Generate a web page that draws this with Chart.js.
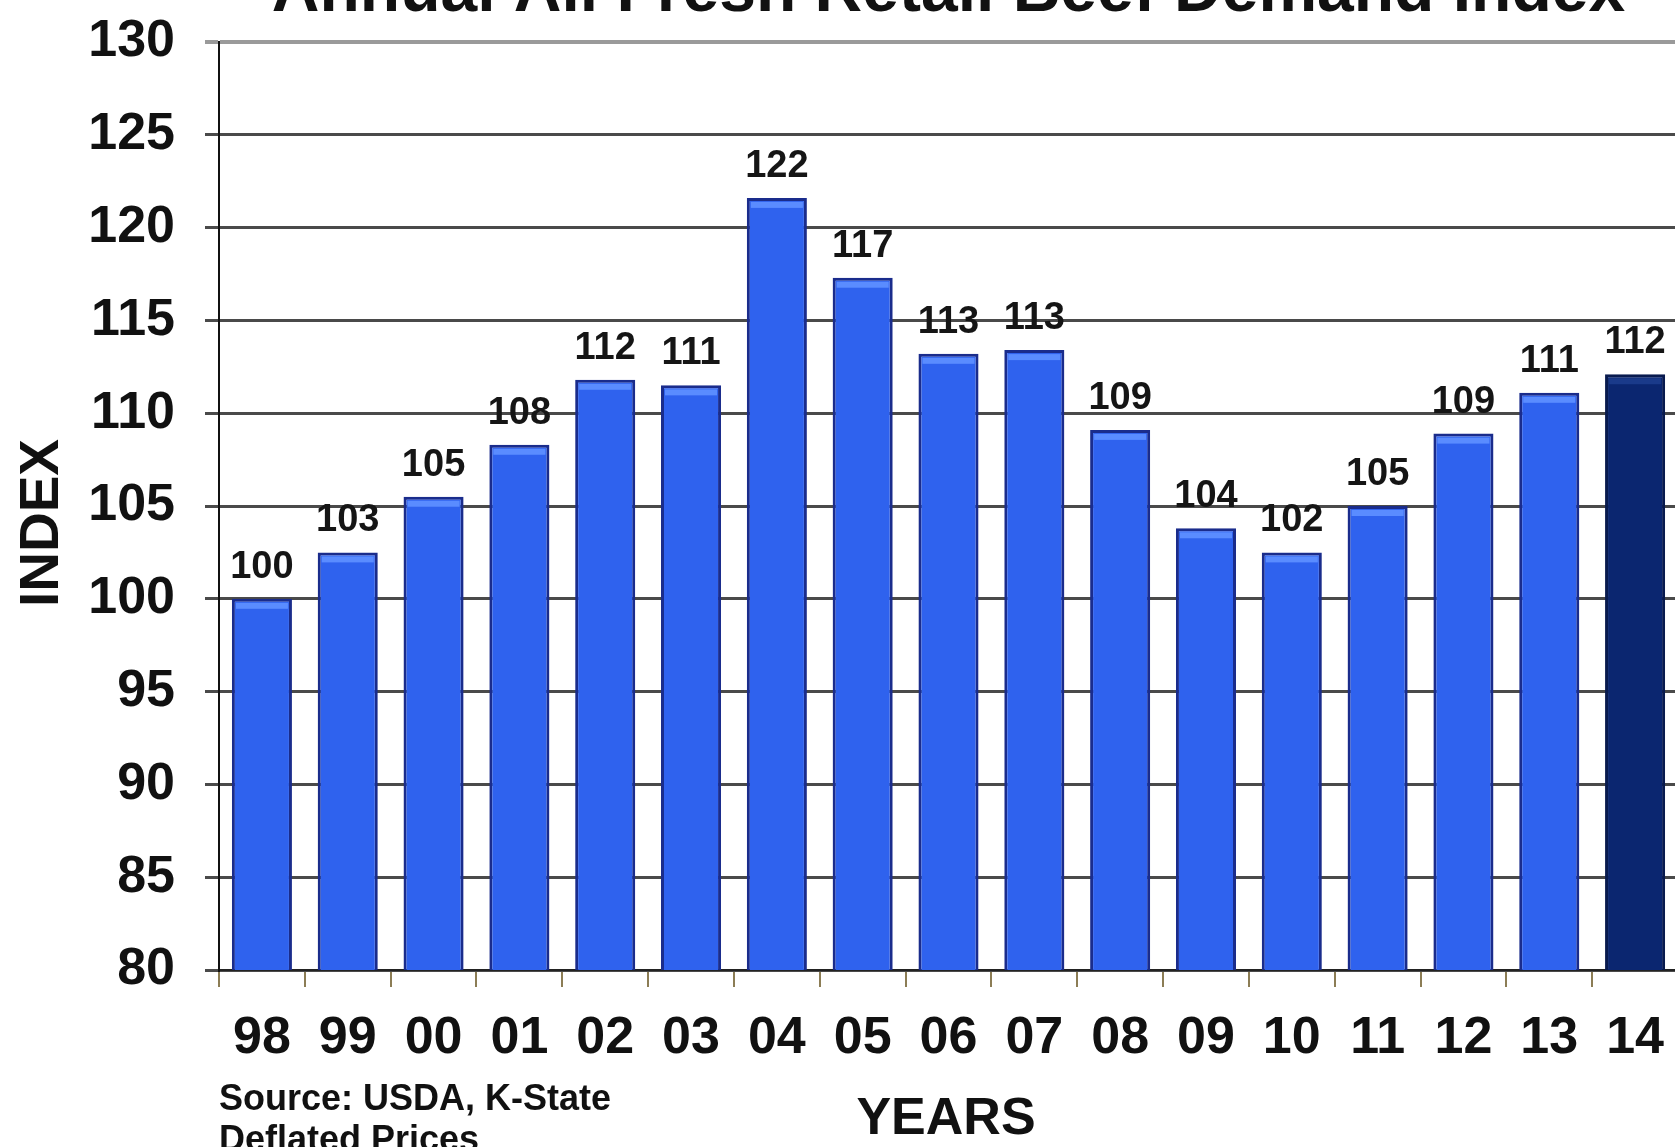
<!DOCTYPE html>
<html>
<head>
<meta charset="utf-8">
<script src="https://cdn.jsdelivr.net/npm/chart.js@4.4.1/dist/chart.umd.min.js"></script>
<style>
  html, body { margin: 0; padding: 0; background: #fff; overflow: hidden; }
  #wrap { position: relative; width: 1678px; height: 1147px; }
</style>
</head>
<body>
<div id="wrap"><canvas id="demandChart"></canvas></div>
<script>
const years = ["98", "99", "00", "01", "02", "03", "04", "05", "06", "07", "08", "09", "10", "11", "12", "13", "14"];
const demandIndex = [100.0, 102.5, 105.5, 108.3, 111.8, 111.5, 121.6, 117.3, 113.2, 113.4, 109.1, 103.8, 102.5, 105.0, 108.9, 111.1, 112.1];
const valueLabels = ["100", "103", "105", "108", "112", "111", "122", "117", "113", "113", "109", "104", "102", "105", "109", "111", "112"];
const yTicks = [80, 85, 90, 95, 100, 105, 110, 115, 120, 125, 130];

const FONT = "'Liberation Sans', Arial, sans-serif";
const barFill = years.map((y, i) => (i === years.length - 1 ? "#0b2670" : "#2f62ee"));
const barEdge = years.map((y, i) => (i === years.length - 1 ? "#081a4e" : "#1a2c8c"));

// value labels, top highlight and the loose texts round the plot
const extras = {
  id: "extras",
  afterDatasetsDraw(chart) {
    const c = chart.ctx;
    const meta = chart.getDatasetMeta(0);
    c.save();
    meta.data.forEach((bar, i) => {
      const w = bar.width;
      c.fillStyle = i === years.length - 1 ? "#1a3a8a" : "#5a8cff";
      c.fillRect(bar.x - w / 2 + 4, bar.y + 4, w - 8, 6);
      c.fillStyle = "#151515";
      c.font = "bold 38px " + FONT;
      c.textAlign = "center";
      c.textBaseline = "alphabetic";
      c.fillText(valueLabels[i], bar.x, bar.y - 21);
    });
    c.restore();
  },
  afterDraw(chart) {
    const c = chart.ctx;
    const a = chart.chartArea;
    c.save();
    c.fillStyle = "#111";
    c.textAlign = "center";
    c.textBaseline = "alphabetic";
    c.font = "bold 66px " + FONT;
    c.fillText("Annual All Fresh Retail Beef Demand Index", (a.left + a.right) / 2, 11);

    c.font = "bold 52px " + FONT;
    c.textBaseline = "middle";
    c.fillText("YEARS", 946, 1120);

    c.save();
    c.translate(43, 523);
    c.rotate(-Math.PI / 2);
    c.font = "bold 55px " + FONT;
    c.fillText("INDEX", 0, 0);
    c.restore();

    c.textAlign = "left";
    c.font = "bold 36px " + FONT;
    c.fillText("Source: USDA, K-State", a.left, 1100);
    c.fillText("Deflated Prices", a.left, 1141);
    c.restore();
  },
};

const ctx = document.getElementById("demandChart").getContext("2d");

new Chart(ctx, {
  type: "bar",
  data: {
    labels: years,
    datasets: [
      {
        label: "Demand index",
        data: demandIndex,
        backgroundColor: barFill,
        borderColor: barEdge,
        borderWidth: 3,
        borderSkipped: false,
        barPercentage: 0.7,
        categoryPercentage: 1.0,
      },
    ],
  },
  options: {
    responsive: true,
    maintainAspectRatio: false,
    animation: false,
    layout: { padding: { top: 42, left: 0, right: 0, bottom: 0 } },
    plugins: {
      legend: { display: false },
      tooltip: { enabled: false },
    },
    scales: {
      x: {
        afterFit(scale) {
          scale.height = 177;
          scale.paddingLeft = 0;
          scale.paddingRight = 0;
        },
        grid: {
          offset: true,
          drawOnChartArea: false,
          drawTicks: true,
          tickLength: 17,
          color: "#8c7d55",
          lineWidth: 2,
        },
        border: { display: true, color: "#222", width: 2 },
        ticks: {
          color: "#111",
          padding: 20,
          font: { family: FONT, size: 52, weight: "bold" },
        },
      },
      y: {
        min: 80,
        max: 130,
        afterFit(scale) {
          scale.width = 219;
          scale.paddingTop = 0;
          scale.paddingBottom = 0;
        },
        afterBuildTicks(scale) {
          scale.ticks = yTicks.map((v) => ({ value: v }));
        },
        grid: {
          tickLength: 14,
          color: (context) => (context.tick && context.tick.value === 130 ? "#9a9a9a" : "#4a4a4a"),
          lineWidth: (context) => (context.tick && context.tick.value === 130 ? 4 : 3),
        },
        border: { display: true, color: "#111", width: 2 },
        ticks: {
          color: "#111",
          padding: 30,
          font: { family: FONT, size: 52, weight: "bold" },
        },
      },
    },
  },
  plugins: [extras],
});
</script>
</body>
</html>
